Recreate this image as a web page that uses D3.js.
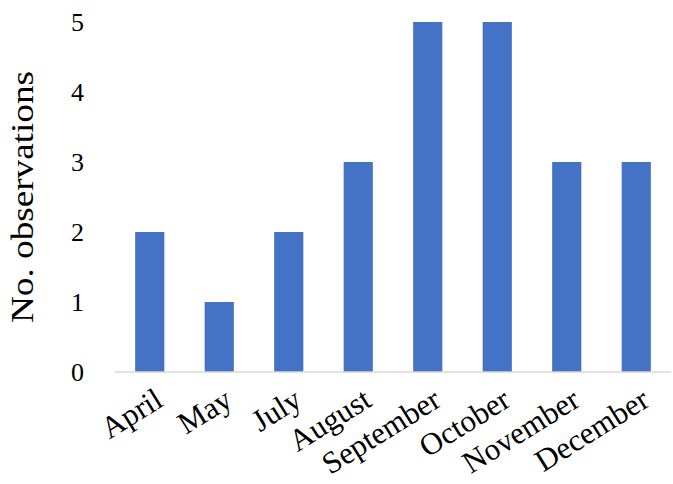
<!DOCTYPE html>
<html><head><meta charset="utf-8">
<script src="https://cdn.jsdelivr.net/npm/d3@7"></script>
<style>body{margin:0;background:#fff}svg{display:block}</style>
</head><body>
<script>
const categories = ["April","May","July","August","September","October","November","December"];
const values = [2,1,2,3,5,5,3,3];
const yTicks = [0,1,2,3,4,5];
const yLabel = "No. observations";

const W=673,H=484;
const svg=d3.select("body").append("svg").attr("width",W).attr("height",H);
const font="'Liberation Serif','DejaVu Serif',serif";
const x=d3.scaleBand().domain(categories).range([115,671]).paddingInner(0.58).paddingOuter(0.29);
const y=d3.scaleLinear().domain([0,5]).range([372,22]);

svg.selectAll("rect.bar").data(values).join("rect").attr("class","bar")
 .attr("x",(d,i)=>x(categories[i])).attr("width",x.bandwidth())
 .attr("y",d=>y(d)).attr("height",d=>y(0)-y(d)).attr("fill","#4472C4");

svg.append("line").attr("x1",115).attr("x2",671).attr("y1",y(0)).attr("y2",y(0))
 .attr("stroke","#d9d9d9").attr("stroke-width",1.5);

svg.selectAll("text.yt").data(yTicks).join("text").attr("class","yt")
 .attr("x",84).attr("y",d=>y(d)).attr("dy","0.35em").attr("text-anchor","end")
 .attr("font-family",font).attr("font-size",26).attr("fill","#000").text(d=>d);

svg.append("text").attr("transform","translate(33,197) rotate(-90)")
 .attr("text-anchor","middle").attr("font-family",font).attr("font-size",32)
 .attr("textLength",252).attr("lengthAdjust","spacingAndGlyphs").text(yLabel);

svg.selectAll("text.xt").data(categories).join("text").attr("class","xt")
 .attr("transform",d=>`translate(${x(d)+x.bandwidth()/2+15},${y(0)+33}) rotate(-32)`)
 .attr("text-anchor","end").attr("font-family",font).attr("font-size",31).text(d=>d);
</script>
</body></html>
